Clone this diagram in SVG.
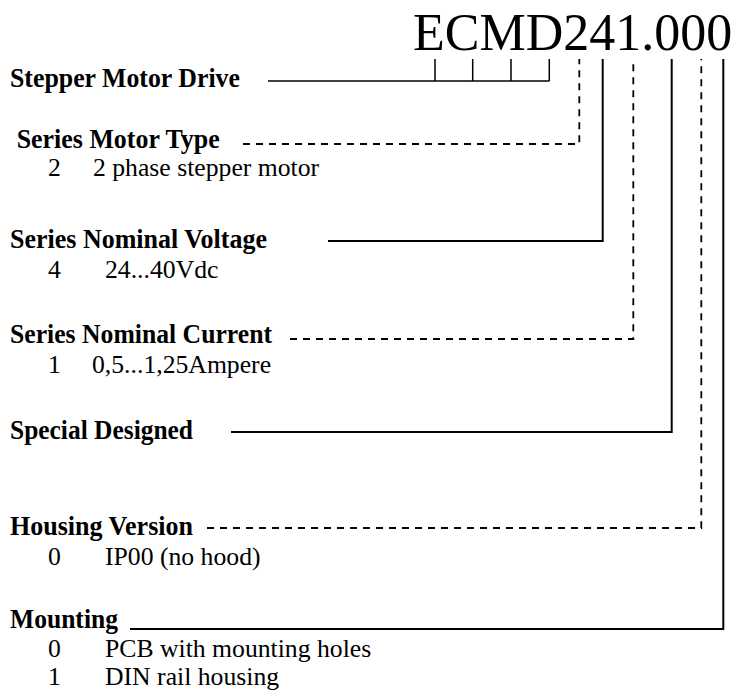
<svg xmlns="http://www.w3.org/2000/svg" width="737" height="699" viewBox="0 0 737 699">
<style>
.lbl{font-family:"Liberation Serif","Times New Roman",serif;font-weight:bold;font-size:26.5px;fill:#000}
.txt{font-family:"Liberation Serif","Times New Roman",serif;font-size:25.7px;fill:#000}
.ttl{font-family:"Liberation Serif","Times New Roman",serif;font-size:52px;fill:#000}
.s{fill:none;stroke:#000;stroke-width:2}
.t{fill:none;stroke:#000;stroke-width:1.5}
.d{fill:none;stroke:#000;stroke-width:1.8;stroke-dasharray:7 6}
</style>
<rect width="737" height="699" fill="#fff"/>
<g id="title"><text class="ttl" x="413" y="50">ECMD241.000</text></g>
<g id="stepper-motor-drive"><text class="lbl" x="10" y="87" textLength="230" lengthAdjust="spacingAndGlyphs">Stepper Motor Drive</text></g>
<g id="series-motor-type"><text class="lbl" x="16.7" y="148" textLength="203" lengthAdjust="spacingAndGlyphs">Series Motor Type</text>
<text class="txt" x="48" y="176">2</text><text class="txt" x="93" y="176">2 phase stepper motor</text></g>
<g id="series-nominal-voltage"><text class="lbl" x="10" y="248" textLength="257" lengthAdjust="spacingAndGlyphs">Series Nominal Voltage</text>
<text class="txt" x="48" y="278">4</text><text class="txt" x="105" y="278">24...40Vdc</text></g>
<g id="series-nominal-current"><text class="lbl" x="10" y="343" textLength="262" lengthAdjust="spacingAndGlyphs">Series Nominal Current</text>
<text class="txt" x="48" y="373">1</text><text class="txt" x="92" y="373">0,5...1,25Ampere</text></g>
<g id="special-designed"><text class="lbl" x="10" y="439" textLength="183" lengthAdjust="spacingAndGlyphs">Special Designed</text></g>
<g id="housing-version"><text class="lbl" x="10" y="535" textLength="183" lengthAdjust="spacingAndGlyphs">Housing Version</text>
<text class="txt" x="48" y="565">0</text><text class="txt" x="105" y="565">IP00 (no hood)</text></g>
<g id="mounting"><text class="lbl" x="10" y="628" textLength="108" lengthAdjust="spacingAndGlyphs">Mounting</text>
<text class="txt" x="48" y="657">0</text><text class="txt" x="105" y="657">PCB with mounting holes</text>
<text class="txt" x="48" y="685">1</text><text class="txt" x="105" y="685">DIN rail housing</text></g>
<g id="connectors">
<path class="t" d="M268 81H549.3M435 59V81M472.7 59V81M511 59V81M549.3 59V81"/>
<path class="d" d="M243 144H579.3V59"/>
<path class="s" d="M328 241H602.7V59"/>
<path class="d" d="M290 339H633.3V59"/>
<path class="s" d="M231 432H671.7V59"/>
<path class="d" d="M207 528H701.3V59"/>
<path class="s" d="M130 629H723.3V59"/>
</g>
</svg>
